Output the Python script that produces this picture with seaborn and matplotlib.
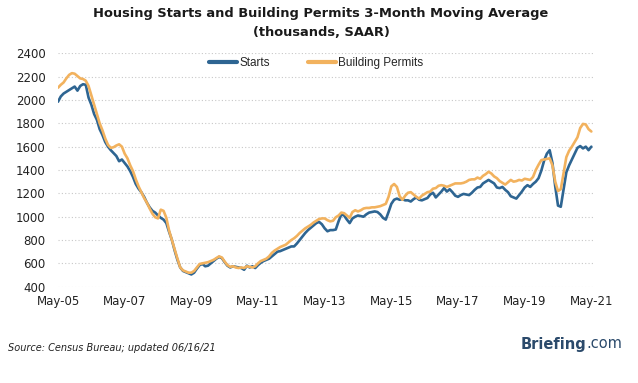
import numpy as np
import pandas as pd
import matplotlib
matplotlib.use("Agg")
import matplotlib.pyplot as plt
import seaborn as sns
from matplotlib.lines import Line2D

# Monthly 3-month moving averages, May-05 .. May-21 (thousands, SAAR)
starts = [
    1985, 2030, 2055, 2070, 2085, 2100, 2115, 2080, 2120, 2135, 2130, 2020,
    1960, 1880, 1830, 1750, 1700, 1640, 1600, 1570, 1545, 1520, 1475, 1490,
    1460, 1430, 1390, 1340, 1280, 1240, 1210, 1170, 1120, 1080, 1050, 1035,
    1010, 990, 975, 945, 870, 800, 710, 630, 565, 535, 525, 515,
    505, 520, 555, 585, 595, 575, 580, 600, 620, 640, 655, 645,
    610, 580, 565, 575, 570, 565, 560, 545, 580, 565, 575, 560,
    585, 605, 620, 630, 640, 660, 680, 700, 705, 715, 725, 735,
    745, 745, 770, 800, 830, 860, 885, 905, 925, 945, 955, 935,
    900, 875, 885, 885, 890, 960, 1020, 1010, 975, 945, 985, 1000,
    1010, 1005, 1000, 1020, 1035, 1040, 1045, 1040, 1020, 990, 975, 1040,
    1110, 1145, 1155, 1145, 1150, 1140, 1140, 1130, 1150, 1165, 1145, 1140,
    1150, 1160, 1190, 1205, 1165, 1190, 1215, 1245, 1215, 1235, 1210, 1180,
    1170, 1185, 1195, 1190, 1185, 1205, 1230, 1250, 1255, 1285, 1300, 1315,
    1300, 1285, 1250, 1245, 1255, 1230, 1210, 1175, 1165, 1155, 1185, 1215,
    1250, 1270, 1255, 1280, 1300, 1330, 1395, 1480, 1540, 1570, 1460, 1260,
    1095, 1085, 1230, 1380, 1440, 1490, 1540, 1590, 1605, 1585, 1600, 1570,
    1600,
]
permits = [
    2105, 2130, 2150, 2185, 2215, 2230, 2225, 2205, 2185, 2180, 2165, 2120,
    2040, 1960, 1880, 1800, 1740, 1670, 1615, 1590, 1595, 1610, 1620, 1600,
    1540, 1500, 1440, 1390, 1320, 1260, 1210, 1160, 1120, 1070, 1025, 995,
    985, 1060, 1050, 990, 880, 800, 720, 640, 565, 540, 530, 520,
    520, 535, 565, 595, 600, 605, 610, 620, 630, 645, 660, 650,
    615, 585, 570, 575, 565, 560, 565, 560, 575, 570, 565, 575,
    600, 620, 630, 640, 660, 690, 710, 725, 740, 750, 760, 780,
    800, 815, 835, 860, 880, 900, 915, 930, 950, 965, 980, 985,
    985, 970, 960, 965, 995, 1010, 1035, 1030, 1010, 990, 1040, 1055,
    1045, 1055, 1070, 1075, 1075, 1080, 1080, 1085, 1090, 1100, 1110, 1170,
    1260, 1280, 1255, 1175, 1145, 1180, 1205, 1210, 1190, 1170, 1155, 1180,
    1195, 1210, 1215, 1240, 1245, 1265, 1270, 1265, 1255, 1265, 1275, 1285,
    1285, 1285, 1290, 1300, 1315, 1320, 1320, 1335, 1325, 1350, 1365, 1385,
    1370, 1345, 1330, 1305, 1290, 1275, 1295, 1315, 1300, 1305, 1315, 1310,
    1325, 1320, 1315, 1340, 1400, 1445, 1485, 1490, 1495, 1500, 1440, 1300,
    1220, 1235, 1370, 1510, 1565, 1600, 1640, 1680, 1760, 1795, 1790, 1750,
    1730,
]
tick_labels = ["May-05", "May-07", "May-09", "May-11", "May-13",
               "May-15", "May-17", "May-19", "May-21"]
y_ticks = [400, 600, 800, 1000, 1200, 1400, 1600, 1800, 2000, 2200, 2400]
series_names = ["Starts", "Building Permits"]

BLUE = "#2E6592"
ORANGE = "#F2B25E"
LOGO = "#2B4A6B"

sns.set_theme(style="white")
plt.rcParams["font.family"] = ["DejaVu Sans"]

month = np.arange(len(starts))
df = pd.DataFrame({"month": np.concatenate([month, month]),
                   "value": starts + permits,
                   "series": [series_names[0]] * len(starts) + [series_names[1]] * len(permits)})

fig = plt.figure(figsize=(6.38, 3.83), dpi=100)
ax = fig.add_axes([58 / 638, 1 - 286.7 / 383, (593 - 58) / 638, (286.7 - 53.3) / 383])

sns.lineplot(data=df, x="month", y="value", hue="series",
             palette={series_names[0]: BLUE, series_names[1]: ORANGE},
             ax=ax, legend=False, linewidth=1.9, estimator=None)

ax.set_xlim(0, 192.6)
ax.set_ylim(400, 2400)
ax.set_yticks(y_ticks)
ax.set_yticklabels([str(v) for v in y_ticks], fontsize=8.5, color="#222222")
ax.set_xticks(np.arange(0, 193, 24))
ax.set_xticklabels(tick_labels, fontsize=8.5, color="#222222")
ax.tick_params(axis="both", length=0)
ax.tick_params(axis="x", pad=6)
ax.tick_params(axis="y", pad=9)
ax.set_xlabel("")
ax.set_ylabel("")
for s in ax.spines.values():
    s.set_visible(False)
ax.grid(False)
for v in y_ticks:
    ax.axhline(v, color="#C8C8C8", linewidth=0.8, linestyle=(0, (1, 2)), zorder=0)

handles = [Line2D([], [], color=BLUE, linewidth=3),
           Line2D([], [], color=ORANGE, linewidth=3)]
fig.legend(handles, series_names, loc="center", bbox_to_anchor=(316 / 638, 1 - 63 / 383),
           ncol=2, frameon=False, handlelength=2.4, handletextpad=0.2,
           columnspacing=3.2, prop={"family": "Liberation Sans", "size": 8.5})

fig.text(321 / 638, 1 - 14 / 383, "Housing Starts and Building Permits 3-Month Moving Average",
         ha="center", va="center", fontsize=9.4, fontweight="bold", color="#1a1a1a")
fig.text(321 / 638, 1 - 33 / 383, "(thousands, SAAR)",
         ha="center", va="center", fontsize=9.4, fontweight="bold", color="#1a1a1a")

fig.text(8 / 638, 1 - 348 / 383, "Source: Census Bureau; updated 06/16/21",
         ha="left", va="center", fontsize=7, style="italic", color="#222222")

# Briefing.com logo text: bold "Briefing" + regular ".com"
fig.canvas.draw()
r = fig.canvas.get_renderer()
com = fig.text(622 / 638, 1 - 344 / 383, ".com", ha="right", va="center",
               fontsize=10.5, color=LOGO)
bb = com.get_window_extent(renderer=r)
fig.text(bb.x0 / fig.bbox.width, 1 - 344 / 383, "Briefing", ha="right", va="center",
         fontsize=10.5, color=LOGO, fontweight="bold")

fig.savefig("out.png", dpi=100)
